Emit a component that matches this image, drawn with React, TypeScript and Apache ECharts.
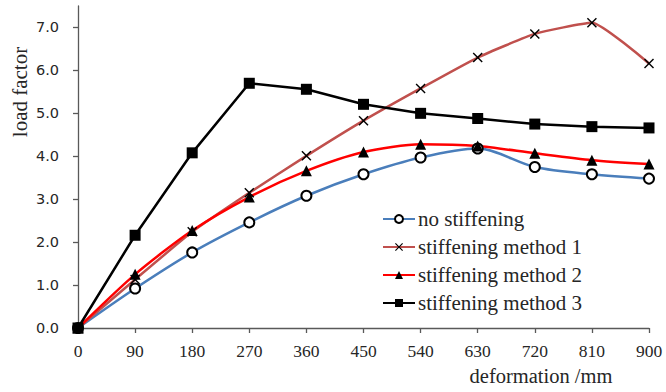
import React, { useEffect, useRef } from "react";
import * as echarts from "echarts";

const deformation = [0, 90, 180, 270, 360, 450, 540, 630, 720, 810, 900];
const noStiffening = [0, 0.92, 1.76, 2.46, 3.08, 3.58, 3.97, 4.18, 3.75, 3.58, 3.48];
const method1 = [0, 1.13, 2.24, 3.15, 4.01, 4.83, 5.58, 6.3, 6.85, 7.11, 6.16];
const method2 = [0, 1.25, 2.27, 3.05, 3.66, 4.1, 4.28, 4.24, 4.07, 3.91, 3.82];
const method3 = [0, 2.16, 4.08, 5.7, 5.56, 5.21, 5.0, 4.88, 4.75, 4.69, 4.66];
const yTicks = [0, 1, 2, 3, 4, 5, 6, 7];
const seriesNames = ["no stiffening", "stiffening method 1", "stiffening method 2", "stiffening method 3"];

const pair = (ys: number[]) => deformation.map((x, i) => [x, ys[i]]);

const crossPath =
  "path://M0,1L1,0L5,4L9,0L10,1L6,5L10,9L9,10L5,6L1,10L0,9L4,5Z";

export default function App() {
  const ref = useRef<HTMLDivElement>(null);
  useEffect(() => {
    document.body.style.margin = "0";
    const chart = echarts.init(ref.current!, undefined, { renderer: "svg" });
    const serif = "'Liberation Serif', 'Times New Roman', serif";
    chart.setOption({
      animation: false,
      backgroundColor: "#ffffff",
      grid: { left: 78, right: 17, top: 6, bottom: 64, containLabel: false },
      xAxis: {
        type: "value",
        min: 0,
        max: 900,
        interval: 90,
        axisLine: { show: true, lineStyle: { color: "#595959", width: 1.3 } },
        axisTick: { show: true, inside: false, length: 5, lineStyle: { color: "#595959", width: 1.3 } },
        axisLabel: { margin: 14, fontFamily: serif, fontSize: 17.5, color: "#262626" },
        splitLine: { show: false },
      },
      yAxis: {
        type: "value",
        min: 0,
        max: 7.5,
        interval: 1,
        axisLine: { show: true, lineStyle: { color: "#595959", width: 1.3 } },
        axisTick: {
          show: true,
          inside: false,
          length: 5,
          customValues: yTicks,
          lineStyle: { color: "#595959", width: 1.3 },
        },
        axisLabel: {
          margin: 19,
          customValues: yTicks,
          fontFamily: "'DejaVu Sans', sans-serif",
          fontSize: 14.5,
          color: "#262626",
          formatter: (v: number) => v.toFixed(1),
        },
        splitLine: { show: false },
      },
      legend: {
        orient: "vertical",
        left: 377,
        top: 202,
        itemWidth: 32,
        itemHeight: 10,
        itemGap: 4,
        textStyle: { fontFamily: serif, fontSize: 21, color: "#262626", lineHeight: 24, padding: [0, 0, 0, -2] },
        data: seriesNames,
      },
      graphic: [
        {
          type: "text",
          x: 20,
          y: 92,
          rotation: Math.PI / 2,
          style: {
            text: "load factor",
            fontFamily: serif,
            fontSize: 21,
            fill: "#262626",
            align: "center",
            verticalAlign: "middle",
          },
        },
        {
          type: "text",
          x: 541,
          y: 376,
          style: {
            text: "deformation /mm",
            fontFamily: serif,
            fontSize: 20.5,
            fill: "#262626",
            align: "center",
            verticalAlign: "middle",
          },
        },
      ],
      series: [
        {
          name: seriesNames[0],
          type: "line",
          data: pair(noStiffening),
          smooth: 0.3,
          symbol: "emptyCircle",
          symbolSize: 10,
          lineStyle: { color: "#4A7EBB", width: 2.5 },
          itemStyle: { color: "#000000", borderColor: "#000000", borderWidth: 1 },
        },
        {
          name: seriesNames[1],
          type: "line",
          data: pair(method1),
          smooth: 0.15,
          symbol: crossPath,
          symbolSize: 10,
          lineStyle: { color: "#C0504D", width: 2.5 },
          itemStyle: { color: "#000000" },
        },
        {
          name: seriesNames[2],
          type: "line",
          data: pair(method2),
          smooth: 0.25,
          symbol: "triangle",
          symbolSize: 11,
          lineStyle: { color: "#FF0000", width: 2.5 },
          itemStyle: { color: "#000000" },
        },
        {
          name: seriesNames[3],
          type: "line",
          data: pair(method3),
          smooth: false,
          symbol: "rect",
          symbolSize: 11,
          lineStyle: { color: "#000000", width: 2.5 },
          itemStyle: { color: "#000000" },
        },
      ],
    });
    return () => chart.dispose();
  }, []);
  return <div ref={ref} style={{ width: 666, height: 392 }} />;
}
